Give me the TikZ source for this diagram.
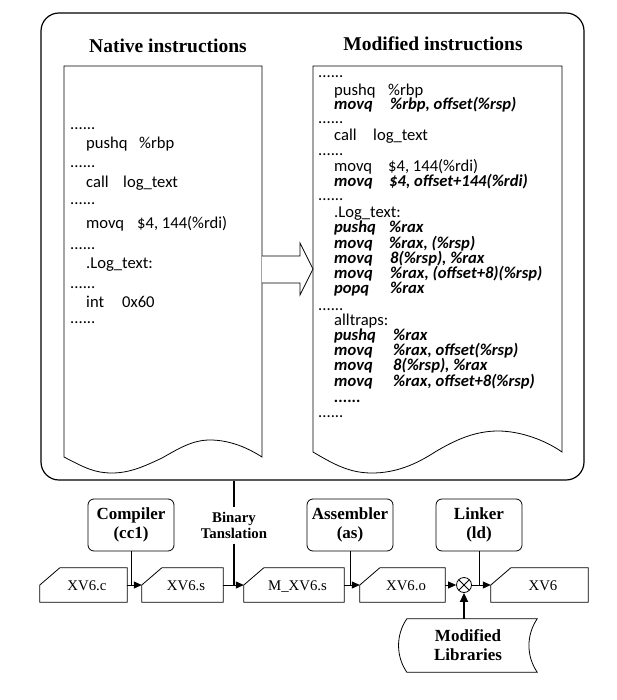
\documentclass[tikz,border=0pt]{standalone}
\usepackage{fontspec}
\setmainfont{Liberation Serif}
\newfontfamily\calfont{Carlito}
\usetikzlibrary{arrows.meta,calc}
\newcommand\dline[3]{\node[code] (#1) at (#2,#3) {......};}
\newcommand\ins[7]{\node[code,#7] (#1a) at (#2,#4) {#5};\node[code,#7] (#1b) at (#3,#4) {#6};}
\newcommand\cardoutline[1]{\draw[line width=0.8pt] (#1.south west) -- (#1.west) -- ([xshift=20pt]#1.north west) -- (#1.north east) -- (#1.south east) -- cycle;}
\begin{document}
\begin{tikzpicture}[x=1pt,y=-1pt,
  code/.style={anchor=base west, inner sep=0pt, font=\calfont\fontsize{16.6}{16}\selectfont},
  bi/.style={font=\calfont\fontsize{16.6}{16}\selectfont\bfseries\itshape},
  title/.style={anchor=base, inner sep=0pt, font=\fontsize{19.5}{22}\selectfont\bfseries},
  tool/.style={draw, rounded corners=6pt, minimum width=86pt, minimum height=52pt, inner sep=0pt, align=center, line width=0.8pt, font=\fontsize{17}{19}\selectfont\bfseries},
  card/.style={minimum width=#1, minimum height=34pt, inner sep=0pt, text height=10pt, text depth=0pt, font=\fontsize{14.8}{16}\selectfont, execute at begin node={\hspace*{7pt}}},
  flow/.style={line width=0.8pt, -{Triangle[length=8pt,width=7pt]}},
  feed/.style={line width=0.8pt},
  thickline/.style={line width=1.6pt},
]
\useasboundingbox (0,0) rectangle (616,700);
% outer frame
\node[draw, line width=1.2pt, rounded corners=18pt, minimum width=543pt, minimum height=467pt, inner sep=0pt] (outer) at (312.5,246.5) {};
% titles
\node[title] (tnat) at (168,53) {Native instructions};
\node[title] (tmod) at (433,51) {Modified instructions};
% native document
\draw[line width=0.8pt] (64,66) -- (262,66) -- (262,457) .. controls (248,448) and (230,440) .. (210,440) .. controls (192,440) and (178,449) .. (162,458) .. controls (145,466) and (130,473) .. (112,473) .. controls (95,473) and (85,468) .. (64,457) -- cycle;
% modified document
\draw[line width=0.8pt] (313,66) -- (562,66) -- (562,452) .. controls (545,440) and (520,431) .. (498,431) .. controls (475,431) and (455,440) .. (435,452) .. controls (415,465) and (395,473) .. (372,473) .. controls (350,473) and (335,465) .. (313,452) -- cycle;
% big arrow
\draw[line width=0.8pt, fill=white] (262,256) -- (300,256) -- (300,243) -- (313,269) -- (300,295) -- (300,283) -- (262,283);
% native code
\dline{nd1}{70}{130}
\ins{n1}{86}{139}{149}{pushq}{\%rbp}{}
\dline{nd2}{70}{168}
\ins{n2}{86}{123}{188}{call}{log\_text}{}
\dline{nd3}{70}{205}
\ins{n3}{86}{137}{229}{movq}{\$4, 144(\%rdi)}{}
\dline{nd4}{70}{250}
\node[code] (n4) at (86,269) {.Log\_text:};
\dline{nd5}{70}{288}
\ins{n5}{86}{122}{307}{int}{0x60}{}
\dline{nd6}{70}{323}
% modified code
\dline{md1}{318}{78}
\ins{m1}{334}{388}{96}{pushq}{\%rbp}{}
\ins{m2}{334}{390}{110}{movq}{\%rbp, offset(\%rsp)}{bi}
\dline{md2}{318}{124}
\ins{m3}{334}{373}{141}{call}{log\_text}{}
\dline{md3}{318}{156}
\ins{m4}{334}{388}{172}{movq}{\$4, 144(\%rdi)}{}
\ins{m5}{334}{389}{187}{movq}{\$4, offset+144(\%rdi)}{bi}
\dline{md4}{318}{201}
\node[code] (m6) at (334,218) {.Log\_text:};
\ins{m7}{334}{389}{233}{pushq}{\%rax}{bi}
\ins{m8}{334}{389}{248}{movq}{\%rax, (\%rsp)}{bi}
\ins{m9}{334}{390}{263}{movq}{8(\%rsp), \%rax}{bi}
\ins{m10}{334}{390}{278}{movq}{\%rax, (offset+8)(\%rsp)}{bi}
\ins{m11}{334}{390}{293}{popq}{\%rax}{bi}
\dline{md5}{318}{310}
\node[code] (m12) at (334,325) {alltraps:};
\ins{m13}{334}{393}{340}{pushq}{\%rax}{bi}
\ins{m14}{334}{393}{355}{movq}{\%rax, offset(\%rsp)}{bi}
\ins{m15}{334}{393}{370}{movq}{8(\%rsp), \%rax}{bi}
\ins{m16}{334}{393}{386}{movq}{\%rax, offset+8(\%rsp)}{bi}
\node[code,bi] (m17) at (334,402) {......};
\dline{md6}{318}{417}
% tool boxes
\node[tool] (comp) at (131,525) {Compiler\\(cc1)};
\node[tool] (asm) at (350,525) {Assembler\\(as)};
\node[tool] (lnk) at (479,525) {Linker\\(ld)};
\node[align=center, inner sep=0pt, minimum height=36pt, font=\fontsize{14.8}{16}\selectfont\bfseries] (bt) at (234,525.5) {Binary\\Tanslation};
% file cards
\node[card=87pt] (xvc) at (83.5,585) {XV6.c};
\node[card=81pt] (xvs) at (182.5,585) {XV6.s};
\node[card=100pt] (mxvs) at (294,585) {M\_XV6.s};
\node[card=85pt] (xvo) at (402.5,585) {XV6.o};
\node[card=97pt] (xv) at (539.5,585) {XV6};
\cardoutline{xvc}
\cardoutline{xvs}
\cardoutline{mxvs}
\cardoutline{xvo}
\cardoutline{xv}
% combiner
\node[draw, circle, minimum size=15pt, inner sep=0pt, line width=0.8pt, path picture={\draw[line width=0.8pt] (path picture bounding box.north west) -- (path picture bounding box.south east) (path picture bounding box.north east) -- (path picture bounding box.south west);}] (ox) at (464,585) {};
% modified libraries
\node[minimum width=138pt, minimum height=53pt, inner sep=0pt, align=center, font=\fontsize{17}{19}\selectfont\bfseries] (ml) at (468,645.5) {Modified\\Libraries};
\draw[line width=0.8pt] ([xshift=8pt]ml.north west) -- (ml.north east) .. controls ([xshift=-11pt]$(ml.north east)!0.3!(ml.south east)$) and ([xshift=-11pt]$(ml.north east)!0.7!(ml.south east)$) .. (ml.south east) -- ([xshift=8pt]ml.south west) .. controls ([xshift=-3pt]$(ml.north west)!0.7!(ml.south west)$) and ([xshift=-3pt]$(ml.north west)!0.3!(ml.south west)$) .. ([xshift=8pt]ml.north west) -- cycle;
% connectors
\draw[flow] (xvc.east) -- (xvs.west);
\draw[flow] (xvs.east) -- (mxvs.west);
\draw[flow] (mxvs.east) -- (xvo.west);
\draw[flow] (xvo.east) -- (ox.west);
\draw[flow] (ox.east) -- (xv.west);
\draw[feed] (comp.south) -- (comp.south |- xvc.east);
\draw[feed] (asm.south) -- (asm.south |- xvc.east);
\draw[feed] (lnk.south) -- (lnk.south |- xvc.east);
\draw[thickline] (bt.north |- outer.south) -- (bt.north);
\draw[thickline] (bt.south) -- (bt.south |- xvc.east);
\draw[thickline, -{Triangle[length=9pt,width=8pt]}] (ox.south |- ml.north) -- (ox.south);
\end{tikzpicture}
\end{document}
